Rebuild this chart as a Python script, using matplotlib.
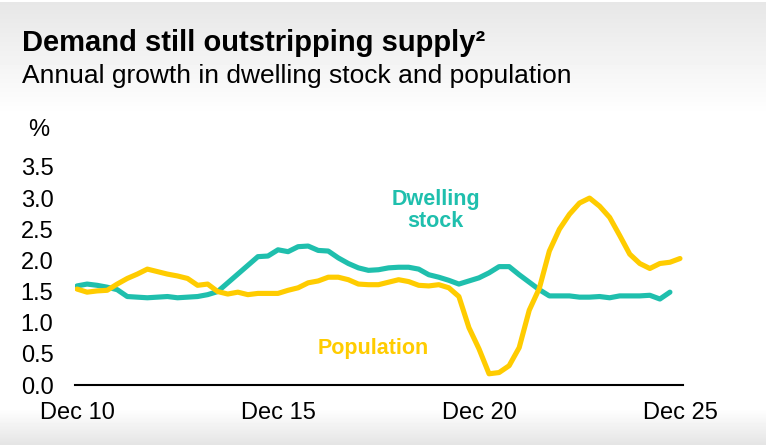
import numpy as np
import matplotlib.pyplot as plt

plt.rcParams['font.family'] = ['Liberation Sans', 'DejaVu Sans']

# ── Data (quarterly, Dec 2010 onwards, % annual growth) ───────
dwelling_stock = [
    1.59, 1.62, 1.60, 1.57, 1.53, 1.42, 1.41, 1.40, 1.41, 1.42,
    1.40, 1.41, 1.42, 1.45, 1.50, 1.64, 1.78, 1.92, 2.06, 2.07,
    2.17, 2.14, 2.22, 2.23, 2.16, 2.15, 2.04, 1.95, 1.88, 1.84,
    1.85, 1.88, 1.89, 1.89, 1.86, 1.77, 1.73, 1.68, 1.62, 1.67,
    1.72, 1.80, 1.90, 1.90, 1.77, 1.65, 1.53, 1.43, 1.43, 1.43,
    1.41, 1.41, 1.42, 1.40, 1.43, 1.43, 1.43, 1.44, 1.38, 1.49,
]
population = [
    1.54, 1.49, 1.51, 1.52, 1.62, 1.71, 1.78, 1.86, 1.82, 1.78,
    1.75, 1.71, 1.60, 1.62, 1.50, 1.46, 1.49, 1.45, 1.47, 1.47,
    1.47, 1.52, 1.56, 1.64, 1.67, 1.73, 1.73, 1.69, 1.62, 1.61,
    1.61, 1.65, 1.69, 1.66, 1.60, 1.59, 1.61, 1.56, 1.42, 0.92,
    0.58, 0.18, 0.20, 0.31, 0.60, 1.20, 1.55, 2.15, 2.50, 2.74,
    2.92, 3.00, 2.87, 2.69, 2.40, 2.10, 1.95, 1.87, 1.95, 1.97,
    2.03,
]
tick_pos = [0, 20, 40, 60]
tick_labels = ["Dec 10", "Dec 15", "Dec 20", "Dec 25"]
y_ticks = [0.0, 0.5, 1.0, 1.5, 2.0, 2.5, 3.0, 3.5]

teal = "#1FBFAD"
yellow = "#FFCC00"

W, H = 769, 448
fig = plt.figure(figsize=(W / 100, H / 100), dpi=100)

# ── Background gradient (grey at top and bottom) ──────────────
rows = np.arange(H)
top = np.clip((rows - 3) / 112.0, 0, 1)
bg_col = 0.905 + (1 - 0.905) * top
bot = np.clip((rows - 408) / 36.0, 0, 1)
bg_col = bg_col - (1 - 0.895) * bot
bg_col[:2] = 1.0
bg_col[445:] = 1.0
bg = np.repeat(bg_col[:, None], W, axis=1)
bg[:, 766:] = 1.0
bgax = fig.add_axes([0, 0, 1, 1], zorder=-10)
bgax.imshow(bg, cmap="gray", vmin=0, vmax=1, aspect="auto", interpolation="bilinear")
bgax.axis("off")

# ── Main axes ─────────────────────────────────────────────────
ax = fig.add_axes([75 / W, (H - 385) / H, 608 / W, 224.3 / H])
ax.patch.set_alpha(0)

ax.plot(np.arange(len(dwelling_stock)), dwelling_stock, color=teal, lw=3.7,
        solid_capstyle="round", solid_joinstyle="round", zorder=3)
ax.plot(np.arange(len(population)), population, color=yellow, lw=3.7,
        solid_capstyle="round", solid_joinstyle="round", zorder=4)

ax.set_xlim(-0.2, 60.3)
ax.set_ylim(0, 3.6)
ax.set_yticks(y_ticks)
ax.set_yticklabels([f"{v:.1f}" for v in y_ticks])
ax.set_xticks(tick_pos)
ax.set_xticklabels(tick_labels)
ax.tick_params(axis="both", length=0, labelsize=17, colors="black")
ax.tick_params(axis="y", pad=15.5)
ax.tick_params(axis="x", pad=12)
for s in ["top", "right", "left"]:
    ax.spines[s].set_visible(False)
ax.spines["bottom"].set_linewidth(1.5)
ax.spines["bottom"].set_color("black")

ax.text(35.7, 2.80, "Dwelling\nstock", color=teal, fontsize=15.5, fontweight="bold",
        ha="center", va="center", linespacing=1.1)
ax.text(29.45, 0.58, "Population", color=yellow, fontsize=15.5, fontweight="bold",
        ha="center", va="center")

# ── Titles ────────────────────────────────────────────────────
fig.text(22 / W, 1 - 43 / H, "Demand still outstripping supply²", fontsize=21,
         fontweight="bold", ha="left", va="center")
fig.text(22 / W, 1 - 76 / H, "Annual growth in dwelling stock and population",
         fontsize=19, ha="left", va="center")
fig.text(28 / W, 1 - 130 / H, "%", fontsize=17, ha="left", va="center")

fig.savefig("out.png", dpi=100)
